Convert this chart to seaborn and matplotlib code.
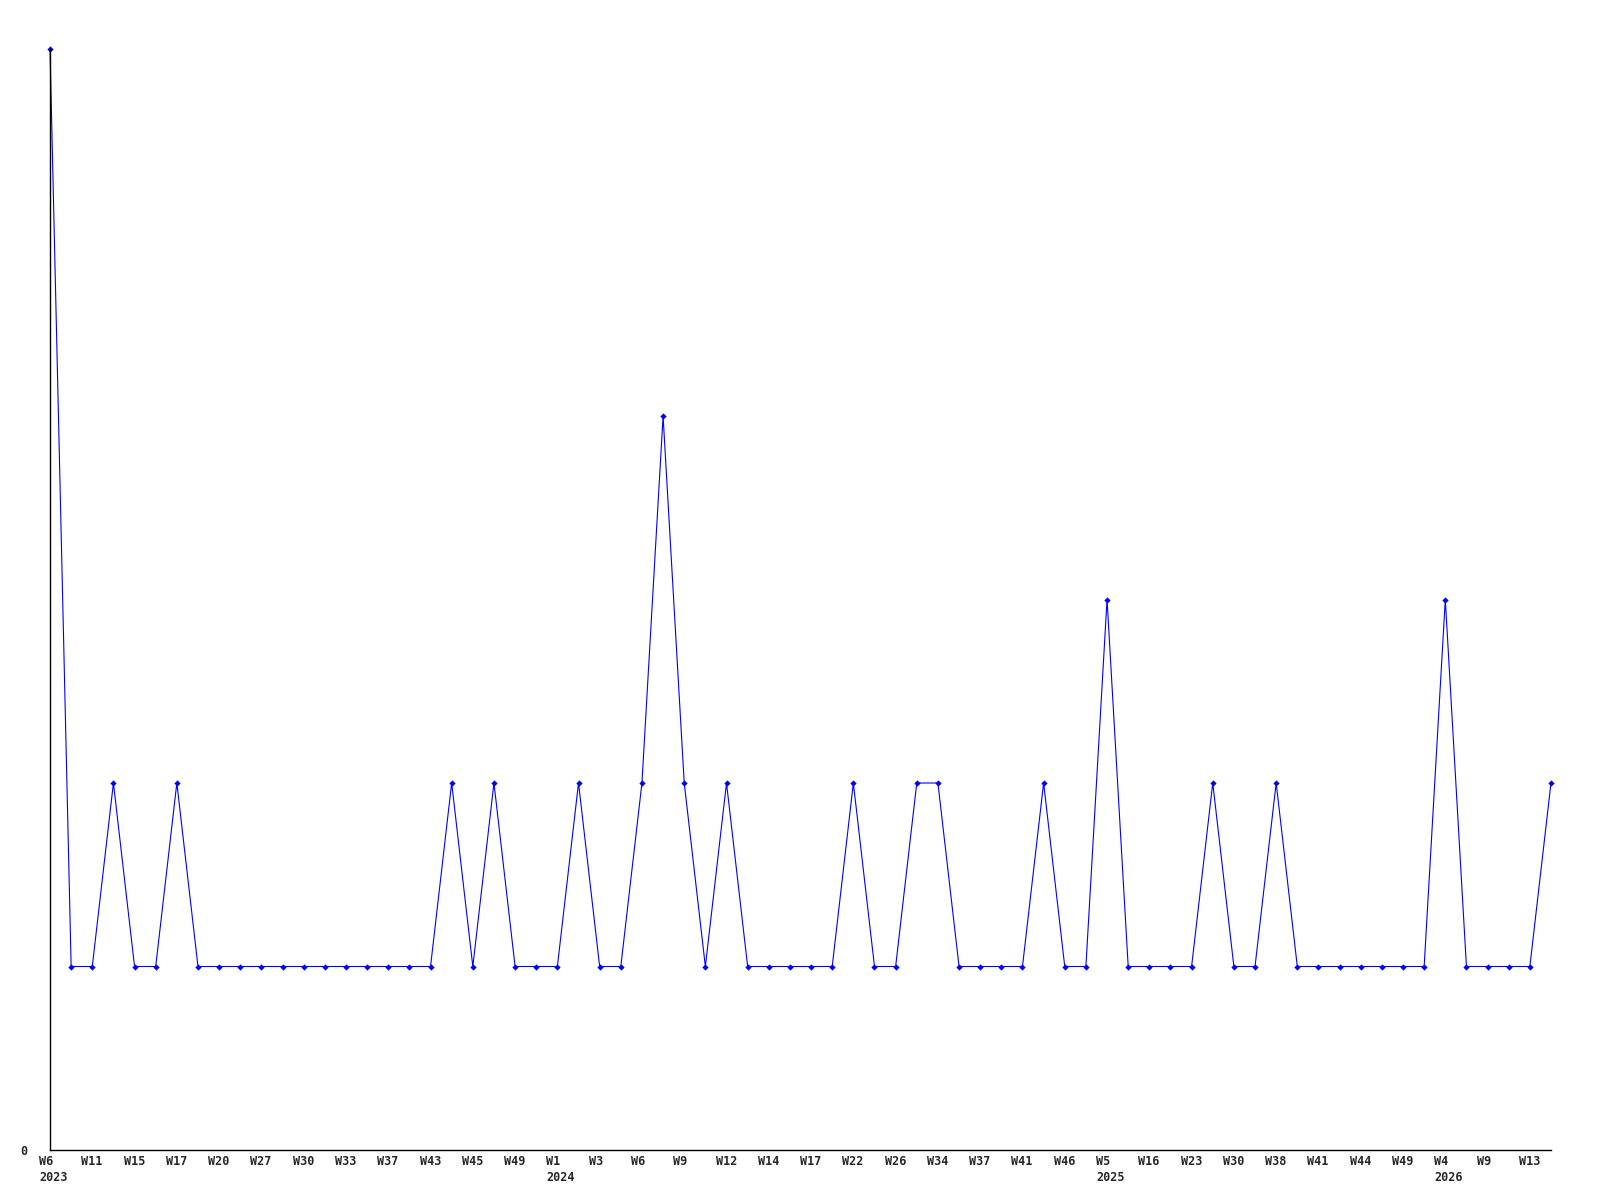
import matplotlib
matplotlib.use("Agg")
import matplotlib.pyplot as plt
import matplotlib.transforms as mtransforms
import seaborn as sns

# weekly counts, one point per week that has data
values = [6, 1, 1, 2, 1, 1, 2, 1, 1, 1,
          1, 1, 1, 1, 1, 1, 1, 1, 1, 2,
          1, 2, 1, 1, 1, 2, 1, 1, 2, 4,
          2, 1, 2, 1, 1, 1, 1, 1, 2, 1,
          1, 2, 2, 1, 1, 1, 1, 2, 1, 1,
          3, 1, 1, 1, 1, 2, 1, 1, 2, 1,
          1, 1, 1, 1, 1, 1, 3, 1, 1, 1,
          1, 2]

# labels shown on every second point
week_labels = ["W6", "W11", "W15", "W17", "W20", "W27", "W30", "W33", "W37", "W43", "W45", "W49",
               "W1", "W3", "W6", "W9", "W12", "W14", "W17", "W22", "W26", "W34", "W37", "W41", "W46",
               "W5", "W16", "W23", "W30", "W38", "W41", "W44", "W49",
               "W4", "W9", "W13"]
year_positions = [0, 12, 25, 33]
years = ["2023", "2024", "2025", "2026"]

idx = list(range(len(values)))

sns.set_style("white")
plt.rcParams['font.family'] = ['DejaVu Sans Mono', 'DejaVu Sans']

fig = plt.figure(figsize=(16, 12), dpi=100)
ax = fig.add_axes([50 / 1600, 50 / 1200, 1501 / 1600, 1101 / 1200])

sns.lineplot(x=idx, y=values, ax=ax, color="#0000ff", linewidth=0.8,
             marker="D", markersize=3.2, markeredgewidth=0, clip_on=False)

ax.set_xlim(0, len(values) - 1)
ax.set_ylim(0, 6)

# week labels (and year under the first week of each year), left-shifted a bit
trans = mtransforms.blended_transform_factory(ax.transData, ax.transAxes)
shift = mtransforms.ScaledTranslation(-11 / 100, -5 / 100, fig.dpi_scale_trans)
for k, w in enumerate(week_labels):
    txt = w
    if k in year_positions:
        txt = w + "\n" + years[year_positions.index(k)]
    ax.text(idx[2 * k], 0, txt, transform=trans + shift, ha="left", va="top",
            fontsize=8.5, fontweight="bold", linespacing=1.3)
ax.set_xticks([])

ax.set_yticks([0])
ax.set_yticklabels(["0"], fontsize=8.5, fontweight="bold")
ax.tick_params(axis="y", length=0, pad=16)

for side in ["top", "right"]:
    ax.spines[side].set_visible(False)
for side in ["left", "bottom"]:
    ax.spines[side].set_color("black")
    ax.spines[side].set_linewidth(1)

ax.set_xlabel("")
ax.set_ylabel("")

fig.savefig("out.png", dpi=100)
